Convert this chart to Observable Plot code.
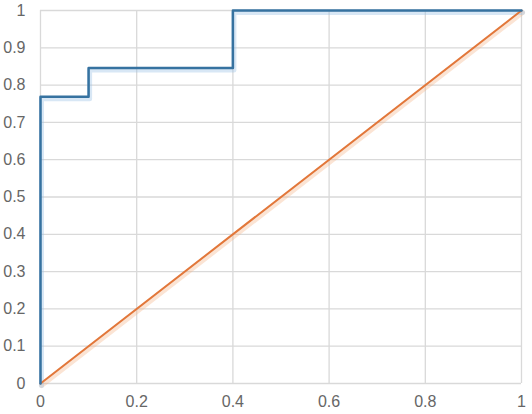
<!DOCTYPE html>
<html>
<head>
<meta charset="utf-8">
<script src="https://cdn.jsdelivr.net/npm/d3@7"></script>
<script src="https://cdn.jsdelivr.net/npm/@observablehq/plot@0.6"></script>
<style>
  html, body { margin: 0; padding: 0; background: #fff; }
  #chart svg { display: block; }
</style>
</head>
<body>
<div id="chart"></div>
<script>
// ROC curve (step) points
const rocFpr = [0, 0, 0.1, 0.1, 0.4, 0.4, 1];
const rocTpr = [0, 0.769, 0.769, 0.846, 0.846, 1, 1];
// Reference diagonal
const diagX = [0, 1];
const diagY = [0, 1];
// Tick values
const xTicks = [0, 0.2, 0.4, 0.6, 0.8, 1];
const yTicks = [0, 0.1, 0.2, 0.3, 0.4, 0.5, 0.6, 0.7, 0.8, 0.9, 1];

const roc = rocFpr.map((x, i) => ({x, y: rocTpr[i]}));
const diag = diagX.map((x, i) => ({x, y: diagY[i]}));
const fmt = d => d3.format("~g")(d);

const chart = Plot.plot({
  width: 532,
  height: 414,
  marginLeft: 40,
  marginTop: 10,
  marginRight: 11,
  marginBottom: 31,
  style: {fontFamily: "'Liberation Sans', Arial, sans-serif", fontSize: "16px", color: "#666666", background: "#fff"},
  x: {domain: [0, 1], ticks: xTicks, tickFormat: fmt, label: null, tickSize: 0, tickPadding: 12},
  y: {domain: [0, 1], ticks: yTicks, tickFormat: fmt, label: null, tickSize: 0, tickPadding: 15},
  marks: [
    Plot.ruleY(yTicks, {stroke: "#d9d9d9", strokeWidth: 1.3}),
    Plot.ruleX(xTicks, {stroke: "#d9d9d9", strokeWidth: 1.3}),
    Plot.line(diag, {x: "x", y: "y", stroke: "#f4b183", strokeWidth: 5, strokeOpacity: 0.35, dx: 1, dy: 2}),
    Plot.line(roc, {x: "x", y: "y", stroke: "#9dc3e6", strokeWidth: 5, strokeOpacity: 0.4, dx: 1, dy: 2}),
    Plot.line(diag, {x: "x", y: "y", stroke: "#e2773a", strokeWidth: 2}),
    Plot.line(roc, {x: "x", y: "y", stroke: "#3672a0", strokeWidth: 2.5}),
    Plot.axisX({ticks: xTicks, tickFormat: fmt, tickSize: 0, tickPadding: 12, label: null}),
    Plot.axisY({ticks: yTicks, tickFormat: fmt, tickSize: 0, tickPadding: 15, label: null})
  ]
});
document.getElementById("chart").appendChild(chart);
</script>
</body>
</html>
